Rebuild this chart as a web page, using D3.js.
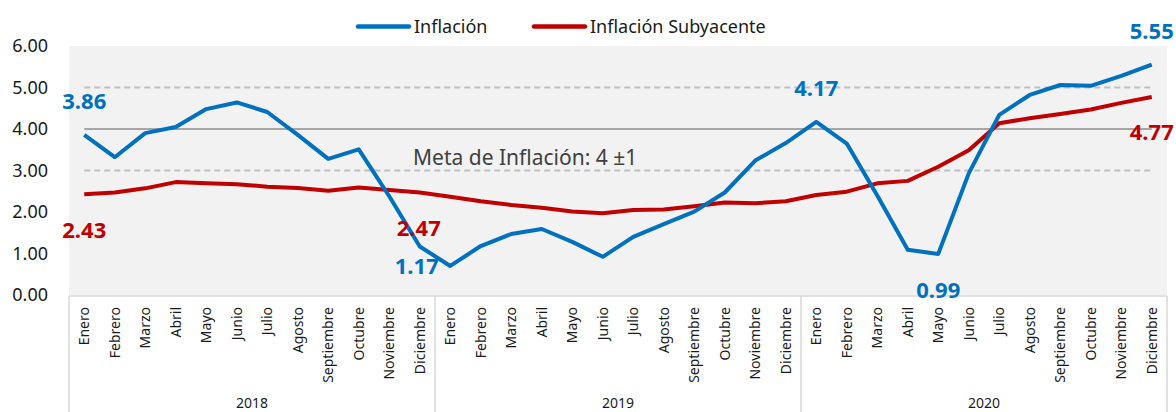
<!DOCTYPE html>
<html>
<head>
<meta charset="utf-8">
<script src="https://cdn.jsdelivr.net/npm/d3@7"></script>
<style>
    body { margin: 0; background: #fff; }
    svg text { font-family: "Noto Sans", "Open Sans", sans-serif; }
</style>
</head>
<body>
<svg id="chart" width="1176" height="412"></svg>
<script>
var years = ["2018", "2019", "2020"];
var months = ["Enero", "Febrero", "Marzo", "Abril", "Mayo", "Junio", "Julio",
    "Agosto", "Septiembre", "Octubre", "Noviembre", "Diciembre"];

var inflacion = [
    3.86, 3.32, 3.90, 4.05, 4.48, 4.64, 4.41, 3.86, 3.28, 3.51, 2.38, 1.17,
    0.70, 1.18, 1.47, 1.59, 1.28, 0.92, 1.40, 1.71, 2.01, 2.47, 3.24, 3.66,
    4.17, 3.65, 2.40, 1.09, 0.99, 2.93, 4.34, 4.82, 5.06, 5.04, 5.28, 5.55
];
var subyacente = [
    2.43, 2.47, 2.57, 2.72, 2.69, 2.67, 2.61, 2.58, 2.51, 2.59, 2.53, 2.47,
    2.37, 2.26, 2.17, 2.10, 2.01, 1.97, 2.05, 2.06, 2.14, 2.23, 2.21, 2.26,
    2.41, 2.49, 2.69, 2.75, 3.09, 3.49, 4.14, 4.26, 4.36, 4.47, 4.63, 4.77
];
var yTicks = [0, 1, 2, 3, 4, 5, 6];
var metaLow = 3, metaMid = 4, metaHigh = 5;

(function () {
    var svg = d3.select("#chart");
    var blue = "#0070c0", red = "#c00000";

    var keys = [];
    years.forEach(function (yr) {
        months.forEach(function (m) { keys.push(yr + "-" + m); });
    });

    var x = d3.scaleBand().domain(keys).range([69, 1167]).padding(0);
    var y = d3.scaleLinear().domain([0, 6]).range([295, 46]);
    var cx = function (i) { return x(keys[i]) + x.bandwidth() / 2; };

    // plot area
    svg.append("rect")
        .attr("x", 69).attr("y", y(6))
        .attr("width", 1167 - 69).attr("height", y(0) - y(6))
        .attr("fill", "#f2f2f2");

    // y axis labels
    var yAxis = d3.axisLeft(y).tickValues(yTicks).tickSize(0).tickPadding(0)
        .tickFormat(d3.format(".2f"));
    var yg = svg.append("g").attr("transform", "translate(48,0)").call(yAxis);
    yg.select(".domain").remove();
    yg.selectAll("text").attr("font-size", 18).attr("fill", "#1a1a1a")
        .style("font-family", "Noto Sans");

    // meta lines
    var x0 = cx(0), x1 = cx(keys.length - 1);
    svg.append("line")
        .attr("x1", x0).attr("x2", x1).attr("y1", y(metaMid)).attr("y2", y(metaMid))
        .attr("stroke", "#a6a6a6").attr("stroke-width", 2);
    [metaLow, metaHigh].forEach(function (v) {
        svg.append("line")
            .attr("x1", x0).attr("x2", x1).attr("y1", y(v)).attr("y2", y(v))
            .attr("stroke", "#bfbfbf").attr("stroke-width", 2)
            .attr("stroke-dasharray", "6,4");
    });

    svg.append("text")
        .attr("x", 413).attr("y", 165)
        .attr("font-size", 21).attr("fill", "#404040")
        .text("Meta de Inflación: 4 ±1");

    // bottom category axis
    var axisG = svg.append("g");
    axisG.append("line")
        .attr("x1", 69).attr("x2", 1167).attr("y1", 296).attr("y2", 296)
        .attr("stroke", "#d9d9d9").attr("stroke-width", 1.5);
    years.forEach(function (yr, k) {
        var left = x(yr + "-" + months[0]);
        axisG.append("line")
            .attr("x1", left).attr("x2", left).attr("y1", 296).attr("y2", 412)
            .attr("stroke", "#d9d9d9").attr("stroke-width", 1.5);
        axisG.append("text")
            .attr("x", left + x.bandwidth() * months.length / 2)
            .attr("y", 408)
            .attr("text-anchor", "middle")
            .attr("font-size", 14).attr("fill", "#1a1a1a")
            .text(yr);
    });
    axisG.append("line")
        .attr("x1", 1167).attr("x2", 1167).attr("y1", 296).attr("y2", 412)
        .attr("stroke", "#d9d9d9").attr("stroke-width", 1.5);

    axisG.selectAll("text.month")
        .data(keys)
        .enter().append("text")
        .attr("class", "month")
        .attr("transform", function (d, i) { return "translate(" + cx(i) + ",307) rotate(-90)"; })
        .attr("dy", "0.35em")
        .attr("text-anchor", "end")
        .attr("font-size", 14).attr("fill", "#1a1a1a")
        .text(function (d) { return d.split("-")[1]; });

    // series lines
    var line = d3.line()
        .x(function (d, i) { return cx(i); })
        .y(function (d) { return y(d); });

    svg.append("path").datum(subyacente)
        .attr("d", line).attr("fill", "none")
        .attr("stroke", red).attr("stroke-width", 4).attr("stroke-linejoin", "round");
    svg.append("path").datum(inflacion)
        .attr("d", line).attr("fill", "none")
        .attr("stroke", blue).attr("stroke-width", 4).attr("stroke-linejoin", "round");

    // data labels
    var labels = [
        { s: inflacion, c: blue, i: 0, dx: 0, dy: -26 },
        { s: subyacente, c: red, i: 0, dx: 0, dy: 44 },
        { s: subyacente, c: red, i: 11, dx: -1, dy: 44 },
        { s: inflacion, c: blue, i: 11, dx: -3, dy: 28 },
        { s: inflacion, c: blue, i: 24, dx: 0, dy: -26 },
        { s: inflacion, c: blue, i: 28, dx: 0, dy: 44 },
        { s: inflacion, c: blue, i: 35, dx: 0, dy: -26 },
        { s: subyacente, c: red, i: 35, dx: 0, dy: 43 }
    ];
    svg.selectAll("text.dlabel")
        .data(labels)
        .enter().append("text")
        .attr("class", "dlabel")
        .attr("x", function (d) { return cx(d.i) + d.dx; })
        .attr("y", function (d) { return y(d.s[d.i]) + d.dy; })
        .attr("text-anchor", "middle")
        .attr("font-size", 22).attr("font-weight", "bold")
        .attr("fill", function (d) { return d.c; })
        .text(function (d) { return d.s[d.i].toFixed(2); });

    // legend
    var legend = svg.append("g");
    var items = [
        { name: "Inflación", c: blue, x: 356 },
        { name: "Inflación Subyacente", c: red, x: 532 }
    ];
    items.forEach(function (it) {
        legend.append("line")
            .attr("x1", it.x + 2).attr("x2", it.x + 53)
            .attr("y1", 26.5).attr("y2", 26.5)
            .attr("stroke", it.c).attr("stroke-width", 4.5)
            .attr("stroke-linecap", "round");
        legend.append("text")
            .attr("x", it.x + 58).attr("y", 33)
            .attr("font-size", 18).attr("fill", "#1a1a1a")
            .text(it.name);
    });
})();
</script>
</body>
</html>
